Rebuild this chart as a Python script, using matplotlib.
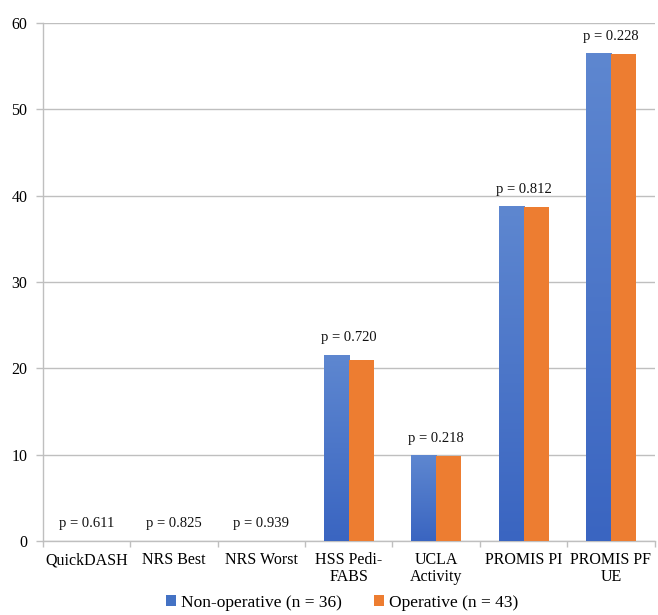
import numpy as np
import matplotlib
matplotlib.use("Agg")
import matplotlib.pyplot as plt
from matplotlib.colors import LinearSegmentedColormap
from matplotlib.patches import Patch

plt.rcParams['font.family'] = ['Liberation Serif', 'DejaVu Serif']

# outcome scores by treatment group
categories = ['QuickDASH', 'NRS Best', 'NRS Worst', 'HSS Pedi-\nFABS',
              'UCLA\nActivity', 'PROMIS PI', 'PROMIS PF\nUE']
non_operative = [0, 0, 0, 21.5, 9.9, 38.7, 56.4]
operative = [0, 0, 0, 21.0, 9.9, 38.7, 56.4]
p_values = ['p = 0.611', 'p = 0.825', 'p = 0.939', 'p = 0.720',
            'p = 0.218', 'p = 0.812', 'p = 0.228']

blue_top = '#5E87D0'
blue_bottom = '#3A65C1'
orange = '#ED7D31'
grid_col = '#BFBFBF'

fig = plt.figure(figsize=(6.58, 6.15), dpi=100)
ax = fig.add_axes([0.065, 0.120, 0.930, 0.843])

x = np.arange(len(categories))
w = 0.286

# blue bars get a vertical gradient, orange ones are flat
grad = LinearSegmentedColormap.from_list('b', [blue_bottom, blue_top])
ramp = np.linspace(0, 1, 256).reshape(-1, 1)
for xi, v in zip(x, non_operative):
    if v > 0:
        ax.imshow(ramp, cmap=grad, origin='lower', aspect='auto',
                  extent=[xi - w, xi, 0, v], zorder=3, interpolation='bilinear')
ax.bar(x + w / 2, operative, width=w, color=orange, zorder=3)

# p-value labels above each pair
for xi, a, b, p in zip(x, non_operative, operative, p_values):
    ax.annotate(p, (xi, max(a, b)), xytext=(0, 8), textcoords='offset points',
                ha='center', va='bottom', fontsize=10.5, color='#111111')

ax.set_xlim(-0.5, len(categories) - 0.5)
ax.set_ylim(0, 60)
ax.set_yticks(range(0, 61, 10))
ax.yaxis.grid(True, color=grid_col, linewidth=1)
ax.set_axisbelow(True)

ax.set_xticks(x)
ax.set_xticklabels(categories, fontsize=11.5, linespacing=1.05)
ax.set_xticks(np.arange(-0.5, len(categories)), minor=True)
ax.tick_params(axis='x', which='major', length=0, pad=8)
ax.tick_params(axis='x', which='minor', length=4, color=grid_col, width=1)
ax.tick_params(axis='y', length=5, color=grid_col, width=1, labelsize=11.5, pad=6)

for s in ['top', 'right']:
    ax.spines[s].set_visible(False)
for s in ['left', 'bottom']:
    ax.spines[s].set_color(grid_col)
    ax.spines[s].set_linewidth(1)

handles = [Patch(facecolor='#4472C4', label='Non-operative (n = 36)'),
           Patch(facecolor=orange, label='Operative (n = 43)')]
fig.legend(handles=handles, loc='lower center', bbox_to_anchor=(0.52, -0.019),
           ncol=2, frameon=False, fontsize=12.5, handlelength=0.6,
           handleheight=0.6, handletextpad=0.3, columnspacing=1.8)

fig.savefig('out.png', dpi=100, facecolor='white')
